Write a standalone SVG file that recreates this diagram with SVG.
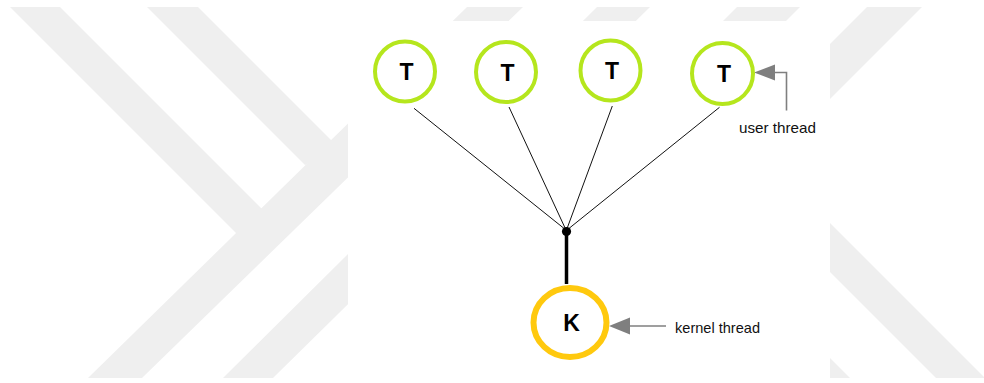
<svg xmlns="http://www.w3.org/2000/svg" width="984" height="383" viewBox="0 0 984 383">
  <style>
    .wm { fill: #efefef; stroke: none; }
    .ut circle { fill: #ffffff; stroke: #b5e61d; stroke-width: 4; }
    .kt ellipse { fill: #ffffff; stroke: #ffc90e; stroke-width: 6; }
    .lbl { font-family: "Liberation Sans", Arial, sans-serif; font-weight: bold; font-size: 23px; fill: #000000; text-anchor: middle; }
    .note { font-family: "Liberation Sans", Arial, sans-serif; font-size: 15px; fill: #111111; }
    .thin { stroke: #111111; stroke-width: 1; fill: none; }
    .thick { stroke: #000000; stroke-width: 3.5; fill: none; }
    .ann { stroke: #7f7f7f; stroke-width: 1.6; fill: none; }
    .head { fill: #7f7f7f; stroke: none; }
  </style>

  <rect x="0" y="0" width="984" height="383" fill="#ffffff"/>

  <!-- watermark background -->
  <g id="watermark">
    <polygon class="wm" points="10,7 60,7 270,217 255,240 236.5,233.5"/>
    <polygon class="wm" points="147,7 198,7 340,149 305,165"/>
    <polygon class="wm" points="467,7 523,7 142,378 88,378"/>
    <polygon class="wm" points="597,7 650,7 273,378 223,378"/>
    <polygon class="wm" points="737,7 800,7 430,378 367,378"/>
    <polygon class="wm" points="867,7 922,7 700,229 645,229"/>
    <polygon class="wm" points="800,193 985,378 936,378 800,242"/>
    <polygon class="wm" points="820,348 850,378 820,378"/>
  </g>
  <rect x="348" y="21" width="482" height="357" fill="#ffffff"/>

  <!-- connectors -->
  <g id="connectors">
    <line class="thin" x1="414" y1="108.3" x2="566" y2="230"/>
    <line class="thin" x1="509" y1="107" x2="566" y2="230"/>
    <line class="thin" x1="612.3" y1="106" x2="566.5" y2="230"/>
    <line class="thin" x1="719.5" y1="107.3" x2="567" y2="230"/>
    <line class="thick" x1="566.5" y1="231" x2="566.5" y2="284"/>
    <circle id="junction" cx="566.5" cy="231.5" r="4.6" fill="#000000"/>
    <polyline class="ann" points="786.5,110.5 786.5,72.5 773,72.5"/>
    <polygon class="head" points="754,72.5 775,64.5 775,80.5"/>
    <line class="ann" x1="627" y1="326" x2="666" y2="326"/>
    <polygon class="head" points="609,326 630,317.5 630,334.5"/>
  </g>

  <!-- user threads -->
  <g id="t1" class="ut">
    <circle cx="405" cy="71.5" r="30"/>
    <text class="lbl" x="406.5" y="80">T</text>
  </g>
  <g id="t2" class="ut">
    <circle cx="506" cy="72" r="30"/>
    <text class="lbl" x="507.5" y="80.5">T</text>
  </g>
  <g id="t3" class="ut">
    <circle cx="610.5" cy="70.5" r="30"/>
    <text class="lbl" x="612" y="78.5">T</text>
  </g>
  <g id="t4" class="ut">
    <circle cx="722.5" cy="73.5" r="30.5"/>
    <text class="lbl" x="724" y="81.5">T</text>
  </g>

  <!-- kernel thread -->
  <g id="k" class="kt">
    <ellipse cx="570" cy="322.5" rx="36.5" ry="34.5"/>
    <text class="lbl" x="571.5" y="330.7">K</text>
  </g>

  <!-- annotations -->
  <g id="label-user">
    <text class="note" x="739" y="133" textLength="77" lengthAdjust="spacingAndGlyphs">user thread</text>
  </g>
  <g id="label-kernel">
    <text class="note" x="675" y="332.5" textLength="85" lengthAdjust="spacingAndGlyphs">kernel thread</text>
  </g>
</svg>
